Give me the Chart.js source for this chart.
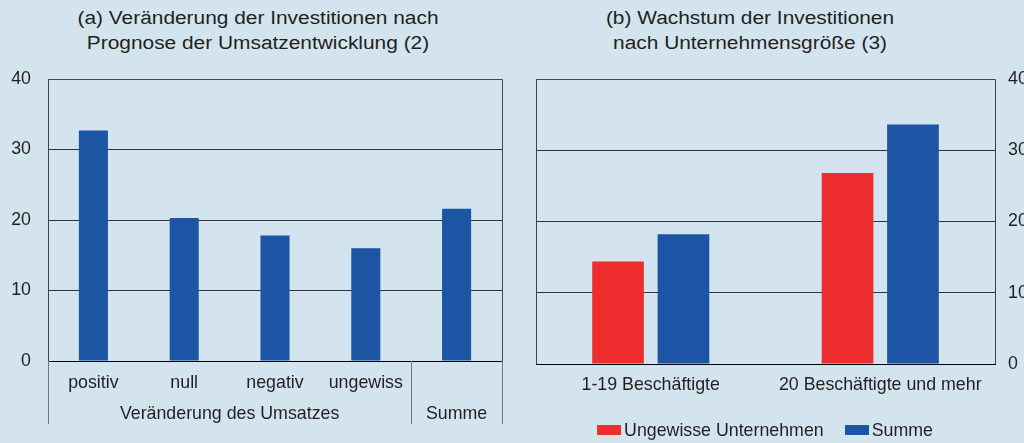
<!DOCTYPE html>
<html>
<head>
<meta charset="utf-8">
<script src="https://cdn.jsdelivr.net/npm/chart.js@4.4.0/dist/chart.umd.min.js"></script>
<style>
  html, body { margin: 0; padding: 0; }
  body { width: 1024px; height: 443px; background: #d3e4ee; position: relative; overflow: hidden;
         font-family: "Liberation Sans", Arial, sans-serif; color: #231f20; }
  canvas { position: absolute; top: 0; }
  .titel { position: absolute; top: 6px; width: 500px; text-align: center; font-size: 18px;
           line-height: 25px; transform: scaleX(1.16); }
  #legende { position: absolute; top: 420px; left: 765px; transform: translateX(-50%);
             display: flex; font-size: 17.8px; line-height: 20px; white-space: nowrap; }
  #legende .eintrag { display: flex; align-items: center; margin-right: 21px; }
  #legende .eintrag:last-child { margin-right: 0; }
  #legende .box { width: 24px; height: 10px; margin-right: 3px; }
</style>
</head>
<body>
<div class="titel" style="left:8px">(a) Veränderung der Investitionen nach<br>Prognose der Umsatzentwicklung (2)</div>
<div class="titel" style="left:500px">(b) Wachstum der Investitionen<br>nach Unternehmensgröße (3)</div>
<canvas id="chartA" width="515" height="443" style="left:0"></canvas>
<canvas id="chartB" width="509" height="443" style="left:515px"></canvas>
<div id="legende"></div>
<script>
// (a) Veränderung der Investitionen nach Umsatzprognose
var kategorienA = ['positiv', 'null', 'negativ', 'ungewiss', 'Summe'];
var werteA = [32.7, 20.3, 17.8, 16.0, 21.6];
var gruppenA = ['Veränderung des Umsatzes', 'Summe'];
var gruppenBreiteA = [4, 1]; // wie viele Kategorien je Gruppe

// (b) Wachstum nach Unternehmensgröße
var kategorienB = ['1-19 Beschäftigte', '20 Beschäftigte und mehr'];
var reihenB = ['Ungewisse Unternehmen', 'Summe'];
var werteUngewiss = [14.4, 26.8];
var werteSumme = [18.2, 33.6];
var farbenB = ['#ee2e2e', '#1d55a5'];

var yTicks = [0, 10, 20, 30, 40];

var textFarbe = '#231f20';
var schrift = { family: '"Liberation Sans", Arial, sans-serif', size: 17.8 };
Chart.defaults.font.family = schrift.family;
Chart.defaults.font.size = schrift.size;
Chart.defaults.color = textFarbe;

// Rahmen um die Zeichenfläche (oben, links, rechts)
var rahmen = {
  id: 'rahmen',
  afterDraw: function(chart) {
    var a = chart.chartArea, ctx = chart.ctx;
    var l = Math.round(a.left) + 0.5, r = Math.round(a.right) + 0.5;
    var t = Math.round(a.top) + 0.5, b = Math.round(a.bottom) + 0.5;
    ctx.save();
    ctx.strokeStyle = '#444';
    ctx.lineWidth = 1;
    ctx.beginPath();
    ctx.moveTo(l, b); ctx.lineTo(l, t); ctx.lineTo(r, t); ctx.lineTo(r, b);
    ctx.stroke();
    ctx.strokeStyle = '#000';
    ctx.beginPath();
    ctx.moveTo(l, b); ctx.lineTo(r, b);
    ctx.stroke();
    ctx.restore();
  }
};

// Gruppe mit nur einer Kategorie -> Name steht nur in der zweiten Zeile
function einzelGruppe(index) {
  var start = 0;
  for (var i = 0; i < gruppenA.length; i++) {
    if (index < start + gruppenBreiteA[i]) return gruppenBreiteA[i] === 1;
    start += gruppenBreiteA[i];
  }
  return false;
}

// zweite Beschriftungszeile mit Trennstrichen (nur Grafik a)
var gruppenachse = {
  id: 'gruppenachse',
  afterDraw: function(chart) {
    var x = chart.scales.x, a = chart.chartArea, ctx = chart.ctx;
    var halb = (x.getPixelForValue(1) - x.getPixelForValue(0)) / 2;
    ctx.save();
    ctx.strokeStyle = '#777';
    ctx.lineWidth = 1;
    ctx.fillStyle = textFarbe;
    ctx.font = schrift.size + 'px ' + schrift.family;
    ctx.textAlign = 'center';
    ctx.textBaseline = 'middle';
    var start = 0;
    gruppenA.forEach(function(name, i) {
      var ende = start + gruppenBreiteA[i] - 1;
      var l = x.getPixelForValue(start) - halb;
      var r = x.getPixelForValue(ende) + halb;
      [l, r].forEach(function(px) {
        var xx = Math.round(px) + 0.5;
        ctx.beginPath();
        ctx.moveTo(xx, a.bottom);
        ctx.lineTo(xx, a.bottom + 63);
        ctx.stroke();
      });
      ctx.fillText(name, (l + r) / 2, a.bottom + 53);
      start = ende + 1;
    });
    ctx.restore();
  }
};

function yAchse(pos, breite) {
  return {
    position: pos,
    min: yTicks[0],
    max: yTicks[yTicks.length - 1],
    ticks: { stepSize: yTicks[1] - yTicks[0], padding: pos === 'left' ? 17 : 13 },
    grid: { color: '#333', drawTicks: false },
    border: { display: false },
    afterFit: function(s) { s.width = breite; }
  };
}

function xAchse(hoehe, abstand) {
  return {
    grid: { display: false, drawTicks: false },
    border: { color: '#000' },
    ticks: { padding: abstand, maxRotation: 0, autoSkip: false },
    afterFit: function(s) { s.height = hoehe; }
  };
}

var xA = xAchse(82, 11);
xA.ticks.callback = function(wert, index) {
  return einzelGruppe(index) ? '' : kategorienA[index];
};

new Chart(document.getElementById('chartA'), {
  type: 'bar',
  data: {
    labels: kategorienA,
    datasets: [{
      data: werteA,
      backgroundColor: '#1d55a5',
      categoryPercentage: 1,
      barPercentage: 0.32
    }]
  },
  options: {
    responsive: false,
    animation: false,
    layout: { padding: { top: 79, left: 0, right: 13, bottom: 0 } },
    plugins: { legend: { display: false }, tooltip: { enabled: false } },
    scales: { x: xA, y: yAchse('left', 48) }
  },
  plugins: [rahmen, gruppenachse]
});

new Chart(document.getElementById('chartB'), {
  type: 'bar',
  data: {
    labels: kategorienB,
    datasets: reihenB.map(function(name, i) {
      return {
        label: name,
        data: i === 0 ? werteUngewiss : werteSumme,
        backgroundColor: farbenB[i],
        categoryPercentage: 0.57,
        barPercentage: 0.79
      };
    })
  },
  options: {
    responsive: false,
    animation: false,
    layout: { padding: { top: 79, left: 21, right: 0, bottom: 0 } },
    plugins: { legend: { display: false }, tooltip: { enabled: false } },
    scales: { x: xAchse(79, 10), y: yAchse('right', 29) }
  },
  plugins: [rahmen]
});

// Legende unter Grafik b
var legende = document.getElementById('legende');
reihenB.forEach(function(name, i) {
  var e = document.createElement('div');
  e.className = 'eintrag';
  var box = document.createElement('span');
  box.className = 'box';
  box.style.background = farbenB[i];
  e.appendChild(box);
  e.appendChild(document.createTextNode(name));
  legende.appendChild(e);
});
</script>
</body>
</html>
